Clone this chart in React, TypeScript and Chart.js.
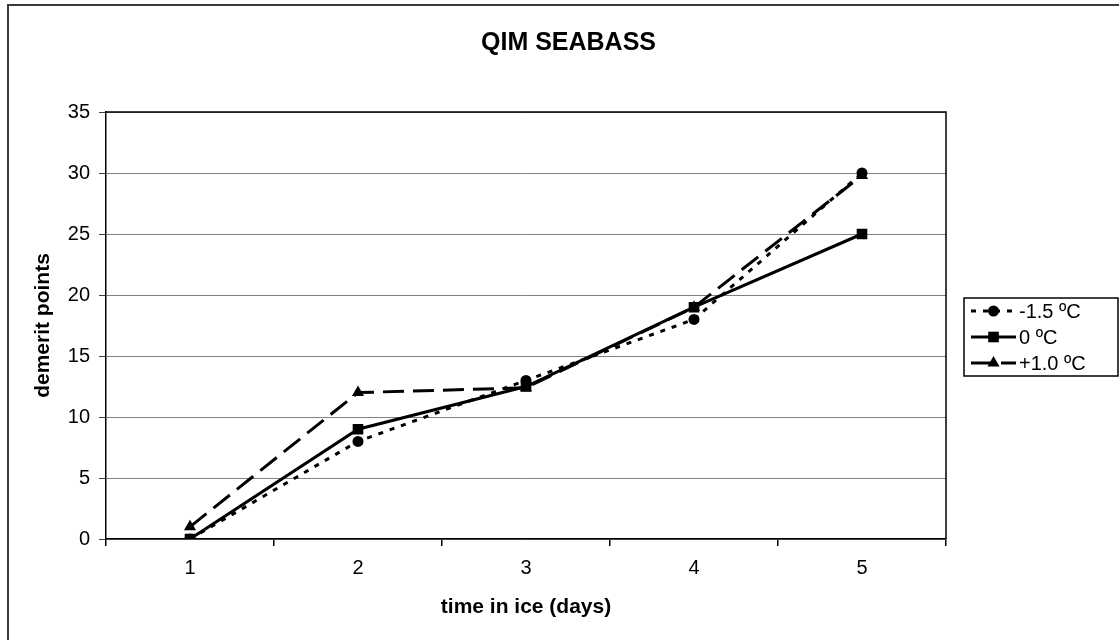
import React, { useEffect, useRef } from "react";
import { Chart, registerables } from "chart.js";

Chart.register(...registerables);

const TITLE = "QIM SEABASS";
const X_TITLE = "time in ice (days)";
const Y_TITLE = "demerit points";
const categories = ["1", "2", "3", "4", "5"];
const seriesNames = ["-1.5 ºC", "0 ºC", "+1.0 ºC"];
const valuesMinus15 = [0, 8, 13, 18, 30];
const valuesZero = [0, 9, 12.5, 19, 25];
const valuesPlus10 = [1, 12, 12.4, 19, 29.8];
const Y_MIN = 0;
const Y_MAX = 35;
const Y_STEP = 5;

const FONT = '"Liberation Sans", Arial, sans-serif';

function drawMarker(ctx: CanvasRenderingContext2D, style: string, x: number, y: number, r: number) {
  ctx.beginPath();
  if (style === "circle") {
    ctx.arc(x, y, r, 0, Math.PI * 2);
  } else if (style === "rect") {
    const s = Math.SQRT1_2 * r;
    ctx.rect(x - s, y - s, 2 * s, 2 * s);
  } else if (style === "triangle") {
    for (let i = 0; i < 3; i++) {
      const a = (i * 2 * Math.PI) / 3;
      const px = x + Math.sin(a) * r;
      const py = y - Math.cos(a) * r;
      if (i === 0) ctx.moveTo(px, py);
      else ctx.lineTo(px, py);
    }
    ctx.closePath();
  }
  ctx.fill();
}

const decorPlugin = {
  id: "decor",
  beforeDraw(chart: any) {
    const { ctx, width, height } = chart;
    ctx.save();
    ctx.fillStyle = "#fff";
    ctx.fillRect(0, 0, width, height);
    ctx.restore();
  },
  afterDraw(chart: any) {
    const { ctx } = chart;
    const a = chart.chartArea;
    ctx.save();
    // plot area border (top / right)
    ctx.strokeStyle = "#000";
    ctx.lineWidth = 1.5;
    ctx.beginPath();
    ctx.moveTo(a.left, a.top);
    ctx.lineTo(a.right, a.top);
    ctx.lineTo(a.right, a.bottom);
    ctx.stroke();

    // outer chart border
    ctx.strokeStyle = "#3a3a3a";
    ctx.lineWidth = 2;
    ctx.strokeRect(8, 5, 1121, 664);

    // title
    ctx.fillStyle = "#000";
    ctx.font = "bold 25px " + FONT;
    ctx.textAlign = "center";
    ctx.textBaseline = "alphabetic";
    ctx.fillText(TITLE, 568.5, 50);

    // legend
    const lx = 964, ly = 298, lw = 154, lh = 78;
    ctx.fillStyle = "#fff";
    ctx.fillRect(lx, ly, lw, lh);
    ctx.strokeStyle = "#000";
    ctx.lineWidth = 1.5;
    ctx.strokeRect(lx, ly, lw, lh);
    const ds = chart.data.datasets;
    ctx.font = "20px " + FONT;
    ctx.textAlign = "left";
    ctx.textBaseline = "middle";
    ds.forEach((d: any, i: number) => {
      const cy = ly + (lh / 6) * (1 + 2 * i);
      const x0 = lx + 7, x1 = lx + 52;
      ctx.strokeStyle = "#000";
      ctx.lineWidth = d.borderWidth;
      ctx.setLineDash(d.borderDash || []);
      ctx.beginPath();
      ctx.moveTo(x0, cy);
      ctx.lineTo(x1, cy);
      ctx.stroke();
      ctx.setLineDash([]);
      ctx.fillStyle = "#000";
      drawMarker(ctx, d.pointStyle, (x0 + x1) / 2, cy, d.pointRadius);
      ctx.fillText(d.label, x1 + 3, cy + 1);
    });
    ctx.restore();
  },
};

export default function App() {
  const ref = useRef<HTMLCanvasElement | null>(null);
  useEffect(() => {
    document.body.style.margin = "0";
    const canvas = ref.current;
    if (!canvas) return;
    const chart = new Chart(canvas, {
      type: "line",
      data: {
        labels: categories,
        datasets: [
          {
            label: seriesNames[0],
            data: valuesMinus15,
            borderColor: "#000",
            backgroundColor: "#000",
            borderWidth: 3,
            borderDash: [5, 7],
            pointStyle: "circle",
            pointRadius: 5.5,
            pointBackgroundColor: "#000",
            pointBorderWidth: 0,
            tension: 0,
          },
          {
            label: seriesNames[1],
            data: valuesZero,
            borderColor: "#000",
            backgroundColor: "#000",
            borderWidth: 3,
            pointStyle: "rect",
            pointRadius: 7.5,
            pointBackgroundColor: "#000",
            pointBorderWidth: 0,
            tension: 0,
          },
          {
            label: seriesNames[2],
            data: valuesPlus10,
            borderColor: "#000",
            backgroundColor: "#000",
            borderWidth: 3,
            borderDash: [21, 9],
            pointStyle: "triangle",
            pointRadius: 7,
            pointBackgroundColor: "#000",
            pointBorderWidth: 0,
            tension: 0,
          },
        ],
      },
      options: {
        responsive: false,
        animation: false,
        devicePixelRatio: 1,
        layout: { padding: { top: 112, right: 173, left: 0, bottom: 0 } },
        plugins: {
          legend: { display: false },
          title: { display: false },
          tooltip: { enabled: false },
        },
        scales: {
          x: {
            type: "category",
            offset: true,
            grid: {
              offset: true,
              drawOnChartArea: false,
              drawTicks: true,
              tickLength: 7,
              color: "#000",
              lineWidth: 1.5,
            },
            border: { color: "#000", width: 1.5 },
            ticks: {
              color: "#000",
              font: { family: FONT, size: 20 },
              padding: 10,
              maxRotation: 0,
            },
            title: {
              display: true,
              text: X_TITLE,
              color: "#000",
              font: { family: FONT, size: 21, weight: "bold" },
              padding: { top: 0, bottom: 20 },
            },
            afterFit: (s: any) => {
              s.height = 101;
            },
          },
          y: {
            min: Y_MIN,
            max: Y_MAX,
            ticks: {
              stepSize: Y_STEP,
              color: "#000",
              font: { family: FONT, size: 20 },
              padding: 9,
            },
            grid: {
              color: "#808080",
              lineWidth: 1,
              tickLength: 7,
              tickColor: "#404040",
            },
            border: { color: "#000", width: 1.5 },
            title: {
              display: true,
              text: Y_TITLE,
              color: "#000",
              font: { family: FONT, size: 21, weight: "bold" },
              padding: { top: 31, bottom: 0 },
            },
            afterFit: (s: any) => {
              s.width = 106;
            },
          },
        },
      },
      plugins: [decorPlugin],
    });
    return () => chart.destroy();
  }, []);
  return <canvas ref={ref} width={1119} height={640} style={{ display: "block" }} />;
}
